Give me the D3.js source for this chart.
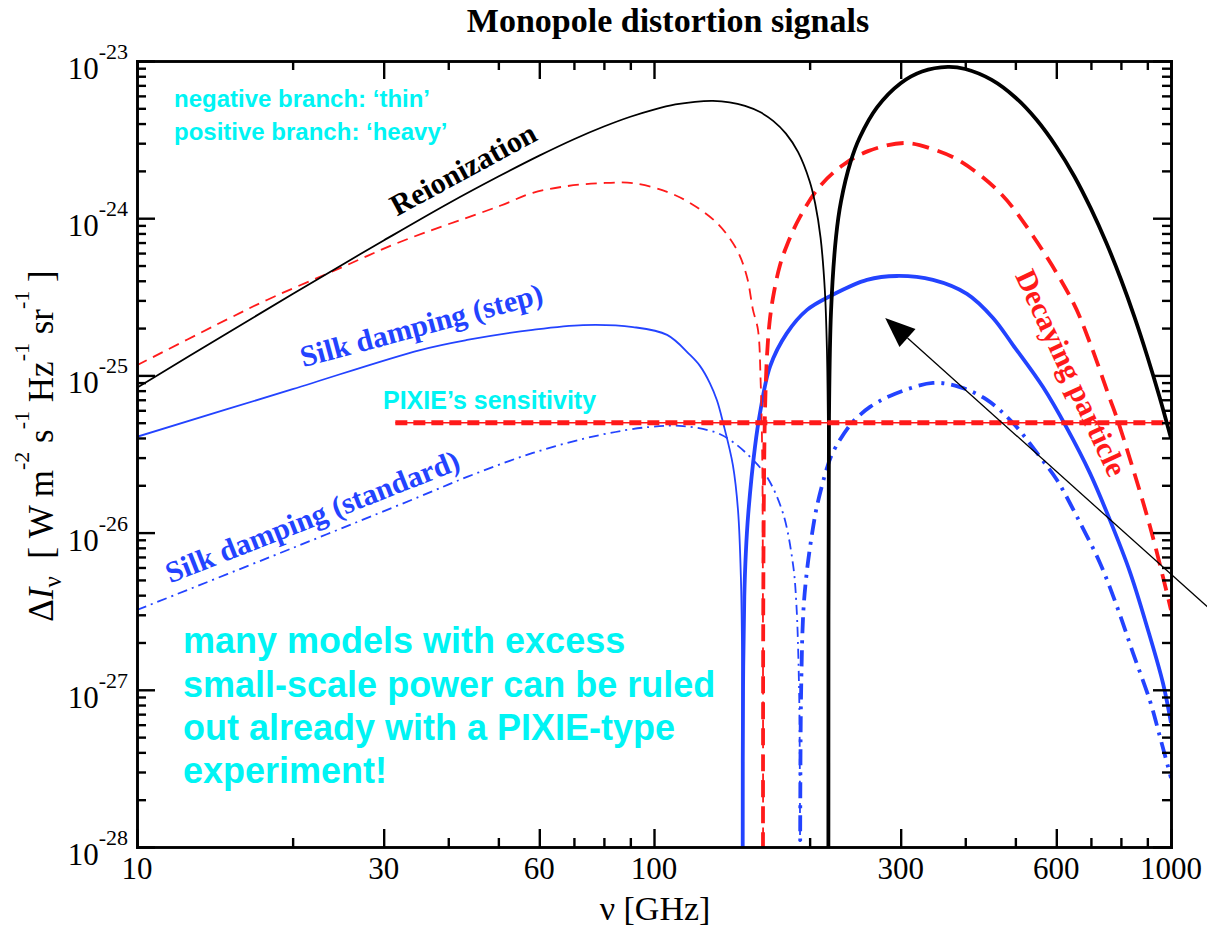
<!DOCTYPE html>
<html>
<head>
<meta charset="utf-8">
<script src="https://cdnjs.cloudflare.com/ajax/libs/d3/7.8.5/d3.min.js"></script>
<style>
  body { margin: 0; background: #fff; }
  .chart svg { display: block; }
  text { white-space: pre; }
</style>
</head>
<body>
<div class="chart"></div>
<script>
// nu in GHz, |dI| in W m^-2 s^-1 Hz^-1 sr^-1
// Reionization (negative branch thin, positive branch heavy)
const reionNegNu = [10, 15, 20, 25, 30, 40, 50, 60, 70, 80, 90, 100, 110, 120, 130, 140, 150, 160, 170, 180, 190, 200, 205, 210, 214, 216, 217, 217.4, 217.47];
const reionNegI = [8.35e-26, 1.87e-25, 3.29e-25, 5.08e-25, 7.21e-25, 1.24e-24, 1.84e-24, 2.50e-24, 3.18e-24, 3.83e-24, 4.42e-24, 4.91e-24, 5.29e-24, 5.50e-24, 5.57e-24, 5.46e-24, 5.18e-24, 4.75e-24, 4.16e-24, 3.45e-24, 2.63e-24, 1.72e-24, 1.24e-24, 7.49e-25, 3.50e-25, 1.48e-25, 4.7e-26, 7e-27, 1e-30];
const reionPosNu = [217.47, 217.5, 218, 220, 225, 230, 240, 250, 270, 300, 330, 370, 400, 450, 500, 550, 600, 650, 700, 750, 800, 850, 900, 950, 1000];
const reionPosI = [1e-30, 3e-27, 5.4e-26, 2.56e-25, 7.66e-25, 1.28e-24, 2.28e-24, 3.26e-24, 5.07e-24, 7.22e-24, 8.57e-24, 9.17e-24, 8.89e-24, 7.58e-24, 5.86e-24, 4.21e-24, 2.85e-24, 1.85e-24, 1.15e-24, 6.95e-25, 4.09e-25, 2.35e-25, 1.32e-25, 7.31e-26, 3.98e-26];

// Decaying particle
const decayNegNu = [10, 15.13, 17.84, 25, 32.27, 50.4, 58.3, 67.9, 78.7, 91.1, 106, 117.4, 132.4, 144.7, 151.3, 155.4, 158.9, 160.8, 161.9, 162.4, 162.5];
const decayNegI = [1.16e-25, 2.32e-25, 3.02e-25, 4.90e-25, 7.06e-25, 1.20e-24, 1.45e-24, 1.60e-24, 1.67e-24, 1.67e-24, 1.47e-24, 1.25e-24, 9.31e-25, 6.28e-25, 4.23e-25, 2.61e-25, 1.95e-25, 9.12e-26, 3.24e-26, 5.37e-27, 1e-30];
const decayPosNu = [162.5, 162.66, 163.24, 163.97, 165.44, 167.66, 170.68, 175.3, 180.85, 191.6, 209.5, 232.1, 259.4, 306, 346, 390.7, 466.9, 540.9, 646, 697, 762, 787, 833, 911, 982, 1000];
const decayPosI = [1e-30, 2.78e-27, 2.16e-26, 6.03e-26, 1.35e-25, 2.32e-25, 3.40e-25, 5.04e-25, 6.76e-25, 1.02e-24, 1.60e-24, 2.18e-24, 2.67e-24, 3.01e-24, 2.75e-24, 2.31e-24, 1.45e-24, 7.71e-25, 2.93e-25, 1.61e-25, 7.08e-26, 5.28e-26, 2.94e-26, 1.09e-26, 4.13e-27, 3.22e-27];

// Silk damping (step)
const stepNegNu = [10, 20, 35.3, 43.5, 58.3, 72.9, 91.1, 106, 117.4, 122.7, 128.3, 132.4, 136, 142.1, 145.4, 147.3, 148.0, 148.3, 148.4];
const stepNegI = [4.07e-26, 8.18e-26, 1.45e-25, 1.68e-25, 1.95e-25, 2.09e-25, 2.03e-25, 1.81e-25, 1.35e-25, 1.15e-25, 8.91e-26, 6.92e-26, 5.01e-26, 2.69e-26, 1.38e-26, 5.0e-27, 1.82e-27, 4.0e-28, 1e-30];
const stepPosNu = [148.4, 148.5, 148.8, 149.5, 150.5, 152.2, 156.8, 160.3, 167.7, 180.6, 197.7, 221, 258.2, 295.1, 346.4, 403, 452.6, 494.8, 565.5, 629, 697, 762, 833, 899, 965, 1000];
const stepPosI = [1e-30, 3.47e-28, 1.41e-27, 3.89e-27, 7.33e-27, 1.33e-26, 3.52e-26, 5.74e-26, 1.14e-25, 1.85e-25, 2.61e-25, 3.24e-25, 4.05e-25, 4.29e-25, 4.05e-25, 3.30e-25, 2.32e-25, 1.56e-25, 8.43e-26, 4.62e-26, 2.39e-26, 1.20e-26, 5.61e-27, 2.51e-27, 1.10e-27, 6.15e-28];

// Silk damping (standard)
const stdNegNu = [10, 20, 35.3, 43.5, 58.3, 78.7, 98.2, 113.8, 132.4, 142.1, 153.4, 165.4, 177.6, 185.7, 188.5, 190.7, 191.5, 191.7];
const stdNegI = [3.22e-27, 7.98e-27, 1.70e-26, 2.26e-26, 3.21e-26, 4.18e-26, 4.70e-26, 4.76e-26, 4.31e-26, 3.77e-26, 3.03e-26, 2.26e-26, 1.33e-26, 6.31e-27, 3.55e-27, 1.12e-27, 2.5e-28, 1e-30];
const stdPosNu = [191.7, 191.9, 192.7, 194.5, 197.7, 203, 206.7, 216.1, 222, 239.4, 250.3, 261.7, 286, 346.4, 390.7, 440.7, 494.8, 558, 601.8, 657.9, 728.8, 786.6, 844.5, 910.7, 952.2, 1000];
const stdPosI = [1e-30, 2.5e-28, 1.12e-27, 3.16e-27, 5.78e-27, 1.07e-26, 1.48e-26, 2.58e-26, 3.26e-26, 4.83e-26, 5.60e-26, 6.30e-26, 7.40e-26, 8.95e-26, 8.43e-26, 6.98e-26, 4.98e-26, 3.03e-26, 2.16e-26, 1.26e-26, 6.41e-27, 3.37e-27, 1.71e-27, 8.49e-28, 5.01e-28, 2.75e-28];

// PIXIE sensitivity and the annotation arrow (data coordinates)
const pixieNu = [31.6, 1000];
const pixieLevel = 5e-26;
const arrowFrom = [1176, 3.37e-27];
const arrowTo = [280, 2.32e-25];

// ticks
const xMajor = [10, 30, 60, 100, 300, 600, 1000];
const xTickLabels = ['10', '30', '60', '100', '300', '600', '1000'];
const xMinor = [20, 40, 50, 70, 80, 90, 200, 400, 500, 700, 800, 900];
const yMajorExp = [-23, -24, -25, -26, -27, -28];
const yMinorMant = [2, 3, 4, 5, 6, 7, 8, 9];

const WIDTH = 1207, HEIGHT = 930;
const MARGINS = {top: 61, right: 36, bottom: 83, left: 137};
const SERIF = "'Liberation Serif', 'Times New Roman', serif";
const SANS = "'Liberation Sans', Arial, sans-serif";
const BLACK = '#000', RED = '#ff1a1a', BLUE = '#2343ff', CYAN = '#00f4f4';

const svg = d3.select('.chart').append('svg')
  .attr('width', WIDTH)
  .attr('height', HEIGHT);

const xRange = d3.scaleLog().domain([10, 1000]).range([MARGINS.left, WIDTH - MARGINS.right]);
const yRange = d3.scaleLog().domain([1e-28, 1e-23]).range([HEIGHT - MARGINS.bottom, MARGINS.top]);

const yMajor = yMajorExp.map(e => Math.pow(10, e));
const yMinor = [];
yMajorExp.slice(1).forEach(e => yMinorMant.forEach(m => yMinor.push(m * Math.pow(10, e))));

// clip + blur filter
const defs = svg.append('defs');
defs.append('clipPath').attr('id', 'plotclip')
  .append('rect')
  .attr('x', MARGINS.left).attr('y', MARGINS.top)
  .attr('width', WIDTH - MARGINS.left - MARGINS.right)
  .attr('height', HEIGHT - MARGINS.top - MARGINS.bottom);
defs.append('filter').attr('id', 'shadowblur')
  .attr('x', '-5%').attr('y', '-200%').attr('width', '110%').attr('height', '500%')
  .append('feGaussianBlur').attr('stdDeviation', 2);

// curves
const lineFunction = d3.line()
  .x(d => xRange(d[0]))
  .y(d => yRange(d[1]))
  .curve(d3.curveCatmullRom.alpha(0.5));

const series = [
  {nu: stdNegNu, val: stdNegI, color: BLUE, w: 1.8, dash: '10,5,2,5'},
  {nu: stdPosNu, val: stdPosI, color: BLUE, w: 3.8, dash: '16,7,3,7'},
  {nu: stepNegNu, val: stepNegI, color: BLUE, w: 1.8, dash: null},
  {nu: stepPosNu, val: stepPosI, color: BLUE, w: 3.8, dash: null},
  {nu: decayNegNu, val: decayNegI, color: RED, w: 1.8, dash: '11,7'},
  {nu: decayPosNu, val: decayPosI, color: RED, w: 3.8, dash: '17,9'},
  {nu: reionNegNu, val: reionNegI, color: BLACK, w: 1.8, dash: null},
  {nu: reionPosNu, val: reionPosI, color: BLACK, w: 3.8, dash: null}
];

const curves = svg.append('g').attr('clip-path', 'url(#plotclip)');
series.forEach(s => {
  curves.append('path')
    .attr('d', lineFunction(d3.zip(s.nu, s.val)))
    .attr('fill', 'none')
    .attr('stroke', s.color)
    .attr('stroke-width', s.w)
    .attr('stroke-dasharray', s.dash)
    .attr('stroke-linejoin', 'round');
});

// PIXIE sensitivity line
const px0 = xRange(pixieNu[0]), px1 = xRange(pixieNu[1]), py = yRange(pixieLevel);
curves.append('line')
  .attr('x1', px0).attr('x2', px1).attr('y1', py + 6).attr('y2', py + 6)
  .attr('stroke', '#7a7a7a').attr('stroke-width', 5)
  .attr('stroke-dasharray', '12,6')
  .attr('opacity', 0.75)
  .attr('filter', 'url(#shadowblur)');
curves.append('line')
  .attr('x1', px0).attr('x2', px1).attr('y1', py).attr('y2', py)
  .attr('stroke', RED).attr('stroke-width', 1.6);
curves.append('line')
  .attr('x1', px0).attr('x2', px1).attr('y1', py).attr('y2', py)
  .attr('stroke', RED).attr('stroke-width', 5)
  .attr('stroke-dasharray', '12,6');

// axes (ticks point inward on all four sides)
function addAxis(axis, tx, ty) {
  const g = svg.append('g')
    .attr('transform', 'translate(' + tx + ',' + ty + ')')
    .call(axis);
  g.selectAll('path.domain').attr('stroke', BLACK).attr('stroke-width', 2.6).attr('stroke-linecap', 'square');
  g.selectAll('line').attr('stroke', BLACK).attr('stroke-width', 2.4);
  g.selectAll('text').remove();
  return g;
}
const plotBottom = HEIGHT - MARGINS.bottom, plotRight = WIDTH - MARGINS.right;
[[xMinor, 9], [xMajor, 18]].forEach(([vals, len]) => {
  addAxis(d3.axisBottom(xRange).tickValues(vals).tickSize(-len).tickSizeOuter(0).tickFormat(''), 0, plotBottom);
  addAxis(d3.axisTop(xRange).tickValues(vals).tickSize(-len).tickSizeOuter(0).tickFormat(''), 0, MARGINS.top);
});
[[yMinor, 9], [yMajor, 18]].forEach(([vals, len]) => {
  addAxis(d3.axisLeft(yRange).tickValues(vals).tickSize(-len).tickSizeOuter(0).tickFormat(''), MARGINS.left, 0);
  addAxis(d3.axisRight(yRange).tickValues(vals).tickSize(-len).tickSizeOuter(0).tickFormat(''), plotRight, 0);
});

// tick labels
svg.selectAll('.xlab')
  .data(xMajor)
  .enter()
  .append('text')
  .attr('x', d => xRange(d))
  .attr('y', plotBottom + 32)
  .attr('text-anchor', 'middle')
  .style('font-family', SERIF)
  .style('font-size', '31px')
  .text((d, i) => xTickLabels[i]);

yMajorExp.forEach(e => {
  const t = svg.append('text')
    .attr('x', MARGINS.left - 9)
    .attr('y', yRange(Math.pow(10, e)) + 18)
    .attr('text-anchor', 'end')
    .style('font-family', SERIF)
    .style('font-size', '31px');
  t.append('tspan').text('10');
  t.append('tspan').attr('dy', -20).style('font-size', '22px').text(String(e));
});

// axis titles + title
svg.append('text')
  .attr('x', 668).attr('y', 32)
  .attr('text-anchor', 'middle')
  .style('font-family', SERIF).style('font-weight', 'bold').style('font-size', '34px')
  .text('Monopole distortion signals');

svg.append('text')
  .attr('x', 655).attr('y', 920)
  .attr('text-anchor', 'middle')
  .style('font-family', SERIF).style('font-size', '34px')
  .text('\u03bd [GHz]');

const yt = svg.append('text')
  .attr('transform', 'translate(53,446) rotate(-90)')
  .attr('text-anchor', 'middle')
  .style('font-family', SERIF).style('font-size', '35px');
yt.append('tspan').text('\u0394');
yt.append('tspan').style('font-style', 'italic').text('I');
yt.append('tspan').attr('dy', 8).style('font-size', '25px').text('\u03bd');
const unitParts = [['  [ W m', '-2'], [' s', '-1'], [' Hz', '-1'], [' sr', '-1']];
unitParts.forEach((p, i) => {
  yt.append('tspan').attr('dy', i === 0 ? -8 : 24).text(p[0]);
  yt.append('tspan').attr('dy', -24).style('font-size', '22px').text(p[1]);
});
yt.append('tspan').attr('dy', 24).text(' ]');

// curve labels
const curveLabels = [
  {text: 'Reionization', x: 468, y: 178, rot: -28.5, color: BLACK},
  {text: 'Silk damping (step)', x: 424, y: 335, rot: -15, color: BLUE},
  {text: 'Silk damping (standard)', x: 316, y: 526, rot: -21.5, color: BLUE},
  {text: 'Decaying particle', x: 1062, y: 377, rot: 65, color: RED}
];
svg.selectAll('.clab')
  .data(curveLabels)
  .enter()
  .append('text')
  .attr('transform', d => 'translate(' + d.x + ',' + d.y + ') rotate(' + d.rot + ')')
  .attr('text-anchor', 'middle')
  .style('font-family', SERIF).style('font-weight', 'bold').style('font-size', '30px')
  .style('fill', d => d.color)
  .text(d => d.text);

// cyan annotations
const notes = [
  {text: 'negative branch: \u2018thin\u2019', x: 174, y: 107, size: 24},
  {text: 'positive branch: \u2018heavy\u2019', x: 174, y: 140, size: 24},
  {text: 'PIXIE\u2019s sensitivity', x: 383, y: 409, size: 25},
  {text: 'many models with excess', x: 183, y: 653, size: 36},
  {text: 'small-scale power can be ruled', x: 183, y: 697, size: 36},
  {text: 'out already with a PIXIE-type', x: 183, y: 740, size: 36},
  {text: 'experiment!', x: 183, y: 783, size: 36}
];
svg.selectAll('.note')
  .data(notes)
  .enter()
  .append('text')
  .attr('x', d => d.x).attr('y', d => d.y)
  .style('font-family', SANS).style('font-weight', 'bold')
  .style('font-size', d => d.size + 'px')
  .style('fill', CYAN)
  .text(d => d.text);

// arrow
const S = [xRange(arrowFrom[0]), yRange(arrowFrom[1])];
const T = [xRange(arrowTo[0]), yRange(arrowTo[1])];
const len = Math.hypot(T[0] - S[0], T[1] - S[1]);
const u = [(T[0] - S[0]) / len, (T[1] - S[1]) / len];
const base = [T[0] - 30 * u[0], T[1] - 30 * u[1]];
const n = [-u[1], u[0]];
svg.append('line')
  .attr('x1', S[0]).attr('y1', S[1]).attr('x2', base[0]).attr('y2', base[1])
  .attr('stroke', BLACK).attr('stroke-width', 1.3);
svg.append('path')
  .attr('d', 'M' + T[0] + ',' + T[1] +
    'L' + (base[0] + 12 * n[0]) + ',' + (base[1] + 12 * n[1]) +
    'L' + (base[0] - 12 * n[0]) + ',' + (base[1] - 12 * n[1]) + 'Z')
  .attr('fill', BLACK);
</script>
</body>
</html>
